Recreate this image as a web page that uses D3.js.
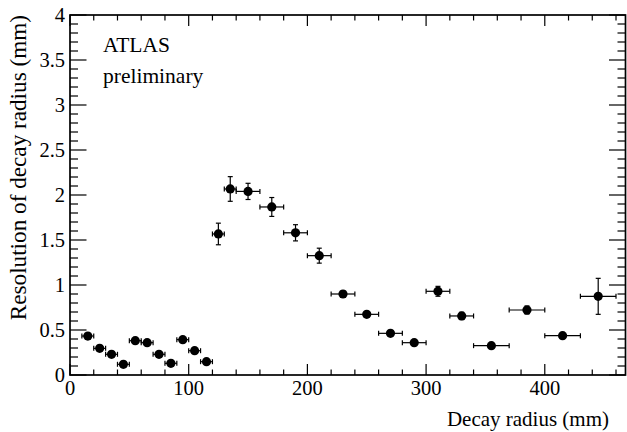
<!DOCTYPE html>
<html>
<head>
<meta charset="utf-8">
<script src="https://cdn.jsdelivr.net/npm/d3@7"></script>
<style>
  html, body { margin: 0; padding: 0; background: #fff; }
</style>
</head>
<body>
<svg id="chart" width="627" height="432" font-family="'Liberation Serif', 'Times New Roman', Times, 'DejaVu Serif', serif"></svg>
<script>
// ---- data ----
const radius    = [15, 25, 35, 45, 55, 65, 75, 85, 95, 105, 115, 125, 135,
                   150, 170, 190, 210, 230, 250, 270, 290, 310, 330,
                   355, 385, 415, 445];
const radiusErr = [5, 5, 5, 5, 5, 5, 5, 5, 5, 5, 5, 5, 5,
                   10, 10, 10, 10, 10, 10, 10, 10, 10, 10,
                   15, 15, 15, 15];
const resolution = [0.433, 0.296, 0.23, 0.119, 0.381, 0.359, 0.23, 0.13, 0.393, 0.27, 0.148, 1.567, 2.067,
                    2.04, 1.867, 1.58, 1.326, 0.9, 0.674, 0.463, 0.359, 0.93, 0.656,
                    0.326, 0.722, 0.437, 0.874];
const resolutionErr = [0.02, 0.02, 0.02, 0.015, 0.02, 0.02, 0.02, 0.015, 0.02, 0.02, 0.02, 0.12, 0.137,
                       0.09, 0.105, 0.09, 0.083, 0.035, 0.03, 0.025, 0.02, 0.055, 0.04,
                       0.02, 0.045, 0.025, 0.2];
const xMajorTicks = [0, 100, 200, 300, 400];
const yMajorTicks = [0, 0.5, 1, 1.5, 2, 2.5, 3, 3.5, 4];
const yTickLabels = ["0", "0.5", "1", "1.5", "2", "2.5", "3", "3.5", "4"];
const xTitle = "Decay radius (mm)";
const yTitle = "Resolution of decay radius (mm)";
const labelLines = ["ATLAS", "preliminary"];

// ---- layout ----
const FONT = "'Liberation Serif', 'Times New Roman', Times, 'DejaVu Serif', serif";
const svg = d3.select("#chart");
const L = 70, R = 625.5, T = 15, B = 375;
const x = d3.scaleLinear().domain([0, 468]).range([L, R]);
const y = d3.scaleLinear().domain([0, 4]).range([B, T]);

const xMinor = d3.range(0, 468, 20);
const yMinor = d3.range(0, 4.0001, 0.1).map(v => +v.toFixed(2));

const g = svg.append("g");
const tickStroke = "#000";

const xMajLen = 11, xMinLen = 5.5, yMajLen = 16.5, yMinLen = 8;
xMinor.forEach(v => {
  const major = v % 100 === 0;
  const len = major ? xMajLen : xMinLen;
  g.append("line").attr("x1", x(v)).attr("x2", x(v)).attr("y1", B).attr("y2", B - len)
    .attr("stroke", tickStroke).attr("stroke-width", 1.2);
  g.append("line").attr("x1", x(v)).attr("x2", x(v)).attr("y1", T).attr("y2", T + len)
    .attr("stroke", tickStroke).attr("stroke-width", 1.2);
});
yMinor.forEach(v => {
  const major = Math.abs(v * 2 - Math.round(v * 2)) < 1e-6;
  const len = major ? yMajLen : yMinLen;
  g.append("line").attr("x1", L).attr("x2", L + len).attr("y1", y(v)).attr("y2", y(v))
    .attr("stroke", tickStroke).attr("stroke-width", 1.2);
  g.append("line").attr("x1", R).attr("x2", R - len).attr("y1", y(v)).attr("y2", y(v))
    .attr("stroke", tickStroke).attr("stroke-width", 1.2);
});

// frame
g.append("rect").attr("x", L).attr("y", T).attr("width", R - L).attr("height", B - T)
  .attr("fill", "none").attr("stroke", "#000").attr("stroke-width", 1.7);

const txt = (sel) => sel.attr("font-family", FONT).attr("fill", "#000");

// tick labels
g.selectAll(".xl").data(xMajorTicks).enter().append("text").call(txt)
  .attr("x", d => x(d)).attr("y", 395).attr("text-anchor", "middle")
  .attr("font-size", 20.5).text(d => d);
g.selectAll(".yl").data(yMajorTicks).enter().append("text").call(txt)
  .attr("x", 65).attr("y", d => y(d)).attr("dy", "0.34em").attr("text-anchor", "end")
  .attr("font-size", 20.5).text((d, i) => yTickLabels[i]);

// axis titles
g.append("text").call(txt).attr("x", 609).attr("y", 426).attr("text-anchor", "end")
  .attr("font-size", 21).text(xTitle);
g.append("text").call(txt).attr("transform", `translate(26,${T}) rotate(-90)`).attr("text-anchor", "end")
  .attr("font-size", 23.2).text(yTitle);

// ATLAS label
g.append("text").call(txt).attr("x", 103).attr("y", 52).attr("font-size", 21.5).text(labelLines[0]);
g.append("text").call(txt).attr("x", 103).attr("y", 83).attr("font-size", 21.5).text(labelLines[1]);

// data points with error bars
const pts = radius.map((r, i) => ({ r, re: radiusErr[i], v: resolution[i], ve: resolutionErr[i] }));
const cap = 2.5;
const pg = g.append("g");
pts.forEach(p => {
  const cx = x(p.r), cy = y(p.v);
  const x0 = x(p.r - p.re), x1 = x(p.r + p.re);
  const y0 = y(p.v - p.ve), y1 = y(p.v + p.ve);
  const ln = (a, b, c, d) => pg.append("line").attr("x1", a).attr("y1", b).attr("x2", c).attr("y2", d)
    .attr("stroke", "#000").attr("stroke-width", 1.2);
  ln(x0, cy, x1, cy);
  ln(x0, cy - cap, x0, cy + cap);
  ln(x1, cy - cap, x1, cy + cap);
  ln(cx, y0, cx, y1);
  ln(cx - cap, y0, cx + cap, y0);
  ln(cx - cap, y1, cx + cap, y1);
});
pg.selectAll("circle").data(pts).enter().append("circle")
  .attr("cx", d => x(d.r)).attr("cy", d => y(d.v)).attr("r", 4.6).attr("fill", "#000");
</script>
</body>
</html>
